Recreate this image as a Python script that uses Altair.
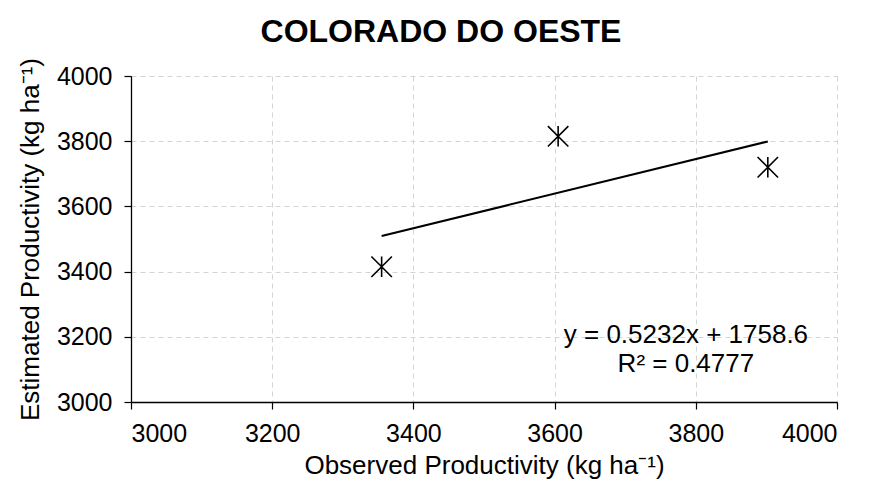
import altair as alt
import pandas as pd

observed = [3355, 3605, 3902]
estimated = [3415, 3815, 3720]
eq_lines = ["y = 0.5232x + 1758.6", "R² = 0.4777"]
eq_x = [3786, 3786]
eq_y = [3205, 3117]

df = pd.DataFrame({"obs": observed, "est": estimated})
df_txt = pd.DataFrame({"t": eq_lines, "x": eq_x, "y": eq_y})

FONT = "Liberation Sans"
xscale = alt.Scale(domain=[3000, 4000], nice=False, zero=False)
yscale = alt.Scale(domain=[3000, 4000], nice=False, zero=False)
ticks = [3000, 3200, 3400, 3600, 3800, 4000]

xax = alt.Axis(values=ticks, format="d", title="Observed Productivity (kg ha⁻¹)")
yax = alt.Axis(values=ticks, format="d", title="Estimated Productivity (kg ha⁻¹)")

base = alt.Chart(df)

asterisk = "M-1,-1L1,1M-1,1L1,-1M0,-1L0,1"
pts = base.mark_point(shape=asterisk, filled=False, stroke="black", strokeWidth=1.6, size=420, opacity=1).encode(
    x=alt.X("obs:Q", scale=xscale, axis=xax),
    y=alt.Y("est:Q", scale=yscale, axis=yax),
)

trend = base.transform_regression("obs", "est", method="linear").mark_line(color="black", strokeWidth=2).encode(
    x=alt.X("obs:Q", scale=xscale, axis=xax),
    y=alt.Y("est:Q", scale=yscale, axis=yax),
)

txt = alt.Chart(df_txt).mark_text(font=FONT, fontSize=26, color="black", align="center", baseline="middle").encode(
    x=alt.X("x:Q", scale=xscale, axis=xax),
    y=alt.Y("y:Q", scale=yscale, axis=yax),
    text="t:N",
)

chart = alt.layer(trend, pts, txt).properties(
    width=706, height=326,
    title=alt.TitleParams("COLORADO DO OESTE", font=FONT, fontSize=32, fontWeight="bold", color="black",
                          anchor="middle", dx=-43, offset=8),
    autosize=alt.AutoSizeParams(type="none"),
    padding={"left": 123, "top": 68, "right": 24, "bottom": 78},
).configure_view(stroke=None).configure_axis(
    grid=True, gridDash=[5, 4], gridColor="#d4d4d4", gridWidth=1,
    domainColor="black", domainWidth=1.3, tickColor="black", tickSize=7, tickWidth=1.2,
    labelFont=FONT, labelFontSize=25, labelColor="black",
    titleFont=FONT, titleFontSize=26, titleFontWeight="normal", titleColor="black",
).configure_axisX(labelPadding=12, titlePadding=6).configure_axisY(labelPadding=12, titlePadding=13)

chart.save("out.html", embed_options={"renderer": "svg", "actions": False})
